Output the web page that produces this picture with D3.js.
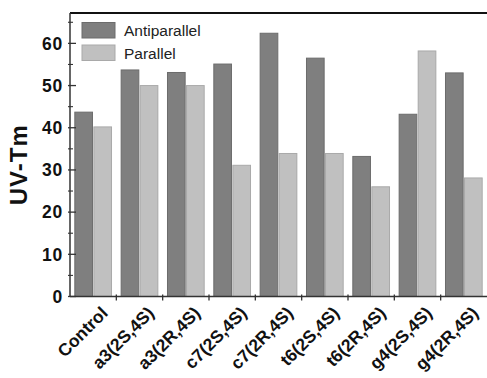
<!DOCTYPE html>
<html>
<head>
<meta charset="utf-8">
<script src="https://cdn.jsdelivr.net/npm/d3@7"></script>
<style>
  html, body { margin: 0; padding: 0; background: #fff; }
  svg { display: block; font-family: Arial, "Liberation Sans", Helvetica, sans-serif; }
</style>
</head>
<body>
<div id="chart"></div>
<script>
// grouped bars: UV-Tm of duplexes, antiparallel vs parallel
const categories = ['Control', 'a3(2S,4S)', 'a3(2R,4S)', 'c7(2S,4S)', 'c7(2R,4S)',
  't6(2S,4S)', 't6(2R,4S)', 'g4(2S,4S)', 'g4(2R,4S)'];
const seriesNames = ['Antiparallel', 'Parallel'];
const antiparallel = [43.7, 53.7, 53.1, 55.1, 62.4, 56.5, 33.2, 43.2, 53.0];
const parallel = [40.2, 50.0, 50.0, 31.1, 33.9, 33.9, 26.0, 58.2, 28.1];
const majorTicks = [0, 10, 20, 30, 40, 50, 60];
const minorTicks = [5, 15, 25, 35, 45, 55, 65];

const W = 487, H = 378;
const pl = 70, pr = 487, pt = 13, pb = 296.5;
const fills = ['#7f7f7f', '#c0c0c0'];
const strokes = ['#6c6c6c', '#a9a9a9'];

const svg = d3.select('#chart').append('svg').attr('width', W).attr('height', H);

const x = d3.scaleBand().domain(categories).range([pl, pr]).paddingInner(0.17).paddingOuter(0.085);
const xs = d3.scaleBand().domain(seriesNames).range([0, x.bandwidth()]).padding(0.02);
const y = d3.scaleLinear().domain([0, 67.2]).range([pb, pt]);

const rows = categories.map((c, i) => ({ c, vals: [antiparallel[i], parallel[i]] }));

// bars
const grp = svg.append('g').selectAll('g').data(rows).enter().append('g')
  .attr('transform', d => `translate(${x(d.c)},0)`);
grp.selectAll('rect').data(d => d.vals.map((v, k) => ({ v, k }))).enter().append('rect')
  .attr('x', d => xs(seriesNames[d.k]) + 0.5)
  .attr('width', xs.bandwidth() - 1)
  .attr('y', d => y(d.v))
  .attr('height', d => pb - y(d.v))
  .attr('fill', d => fills[d.k])
  .attr('stroke', d => strokes[d.k])
  .attr('stroke-width', 1);

// top frame line
svg.append('line').attr('x1', pl).attr('x2', pr).attr('y1', pt).attr('y2', pt)
  .attr('stroke', '#111').attr('stroke-width', 2);

// y axis
const yAx = svg.append('g');
yAx.append('line').attr('x1', pl).attr('x2', pl).attr('y1', pt).attr('y2', pb)
  .attr('stroke', '#333').attr('stroke-width', 1.5);
yAx.selectAll('line.maj').data(majorTicks).enter().append('line').attr('class', 'maj')
  .attr('x1', pl - 2).attr('x2', pl + 6).attr('y1', d => y(d)).attr('y2', d => y(d))
  .attr('stroke', '#333').attr('stroke-width', 1.3);
yAx.selectAll('line.min').data(minorTicks).enter().append('line').attr('class', 'min')
  .attr('x1', pl - 2).attr('x2', pl + 3).attr('y1', d => y(d)).attr('y2', d => y(d))
  .attr('stroke', '#333').attr('stroke-width', 1.1);
yAx.selectAll('text').data(majorTicks).enter().append('text')
  .attr('x', pl - 7).attr('y', d => y(d)).attr('dy', '0.36em')
  .attr('text-anchor', 'end').attr('font-weight', 'bold').attr('font-size', 17.5)
  .attr('letter-spacing', 0.8).attr('fill', '#111')
  .text(d => d);

// x axis
const xAx = svg.append('g');
xAx.append('line').attr('x1', pl).attr('x2', pr).attr('y1', pb).attr('y2', pb)
  .attr('stroke', '#333').attr('stroke-width', 1.5);
const bounds = categories.slice(1).map(c => x(c) - x.step() * x.paddingInner() / 2);
xAx.selectAll('line.t').data(bounds).enter().append('line').attr('class', 't')
  .attr('x1', d => d).attr('x2', d => d).attr('y1', pb - 2).attr('y2', pb + 4)
  .attr('stroke', '#333').attr('stroke-width', 1.3);
xAx.selectAll('text').data(categories).enter().append('text')
  .attr('transform', c => `translate(${x(c) + x.bandwidth() / 2 + 7},${pb + 9}) rotate(-45)`)
  .attr('text-anchor', 'end').attr('dy', '0.7em')
  .attr('font-weight', 'bold').attr('font-size', 17.5).attr('fill', '#111')
  .text(c => c);

// y label
svg.append('text')
  .attr('transform', `translate(27,${(pt + pb) / 2 + 10}) rotate(-90)`)
  .attr('text-anchor', 'middle').attr('font-weight', 'bold').attr('font-size', 24)
  .attr('letter-spacing', 1).attr('fill', '#111')
  .text('UV-Tm');

// legend
const leg = svg.append('g').selectAll('g').data(seriesNames).enter().append('g')
  .attr('transform', (d, i) => `translate(82,${22.5 + i * 22.5})`);
leg.append('rect').attr('width', 33).attr('height', 15.5)
  .attr('fill', (d, i) => fills[i]).attr('stroke', (d, i) => strokes[i]);
leg.append('text').attr('x', 42).attr('y', 8).attr('dy', '0.36em')
  .attr('font-size', 15.5).attr('fill', '#222').text(d => d);
</script>
</body>
</html>
